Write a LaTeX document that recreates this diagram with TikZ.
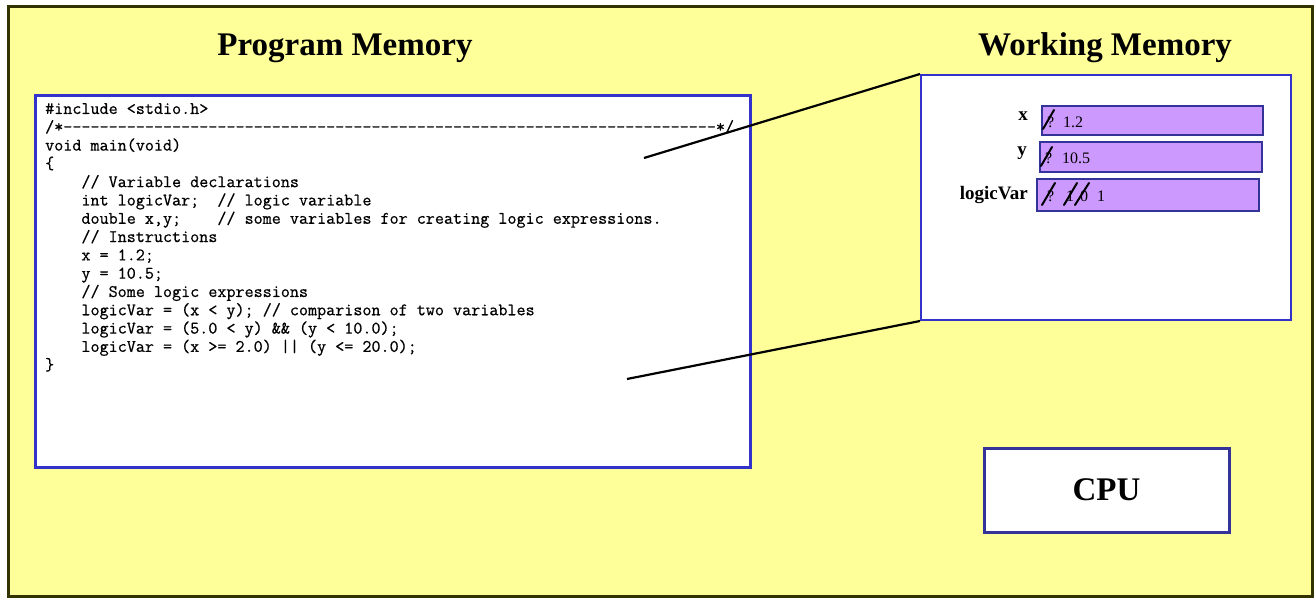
\documentclass[tikz,border=0pt]{standalone}
\usepackage{fontspec}
\setmainfont{Liberation Serif}
\newfontfamily\codefont{Latin Modern Mono}[FakeBold=0.6]
\definecolor{bgyellow}{HTML}{FFFF99}
\definecolor{frameolive}{HTML}{333300}
\definecolor{boxblue}{HTML}{3333CC}
\definecolor{cellblue}{HTML}{333399}
\definecolor{cellfill}{HTML}{CC99FF}
\tikzset{
  title/.style={font=\fontsize{33}{36}\selectfont\bfseries, inner sep=0pt},
  membox/.style={draw=boxblue, fill=white, line width=3pt},
  wmbox/.style={draw=boxblue, fill=white, line width=2pt},
  cell/.style={draw=cellblue, fill=cellfill, line width=2pt},
  varlabel/.style={font=\fontsize{19}{21}\selectfont\bfseries, inner sep=0pt, anchor=east},
  valtext/.style={font=\fontsize{16}{18}\selectfont, inner sep=0pt, anchor=west},
  strike/.style={line width=2pt, line cap=round},
  link/.style={line width=2.2pt}
}
\begin{document}
\begin{tikzpicture}[x=1pt,y=-1pt]
\useasboundingbox (0,0) rectangle (1315,599);
% outer frame
\draw[fill=bgyellow, draw=frameolive, line width=3pt] (8.5,6.5) rectangle (1312,596);
% titles
\node[title] (pmtitle) at (345,48) {Program Memory};
\node[title] (wmtitle) at (1105,48) {Working Memory};
% program memory
\node[membox, minimum width=715pt, minimum height=371pt, inner sep=0pt] (pm) at (392.5,281.5) {};
\node[anchor=north west, inner sep=0pt, align=left,
      font=\codefont\fontsize{17.6}{18.3}\selectfont] (code) at (45,103) {%
\#include <stdio.h>\\
/*\foreach \i in {1,...,72}{-}*/\\
void main(void)\\
\{\\
~~~~// Variable declarations\\
~~~~int logicVar;~~// logic variable\\
~~~~double x,y;~~~~// some variables for creating logic expressions.\\
~~~~// Instructions\\
~~~~x = 1.2;\\
~~~~y = 10.5;\\
~~~~// Some logic expressions\\
~~~~logicVar = (x < y); // comparison of two variables\\
~~~~logicVar = (5.0 < y) \&\& (y < 10.0);\\
~~~~logicVar = (x >= 2.0) || (y <= 20.0);\\
\}};
% working memory
\node[wmbox, minimum width=370pt, minimum height=245pt, inner sep=0pt] (wm) at (1106,197.5) {};
% cells
\node[cell, minimum width=221pt, minimum height=29pt, inner sep=0pt] (cx) at (1152.5,120.5) {};
\node[cell, minimum width=222pt, minimum height=30pt, inner sep=0pt] (cy) at (1151,157) {};
\node[cell, minimum width=222pt, minimum height=32pt, inner sep=0pt] (cl) at (1148,195) {};
\node[varlabel] (lx) at (1028,116) {x};
\node[varlabel] (ly) at (1027,153) {y};
\node[varlabel] (ll) at (1028,195) {logicVar};
% x value
\node[valtext] (xq) at (1047,122) {?};
\draw[strike] (1043,129) -- (1054,110);
\node[valtext] (xv) at (1063,122) {1.2};
% y value
\node[valtext] (yq) at (1045,158) {?};
\draw[strike] (1041,166) -- (1052,147);
\node[valtext] (yv) at (1062,158) {10.5};
% logicVar value
\node[valtext] (lq) at (1047,196) {?};
\draw[strike] (1042,205) -- (1055,183);
\node[valtext] (l1) at (1066,196) {1};
\draw[strike] (1064,205) -- (1077,183);
\node[valtext] (l0) at (1080,196) {0};
\draw[strike] (1075,205) -- (1089,183);
\node[valtext] (lv) at (1097,196) {1};
% connectors
\coordinate (p1) at (644,158);
\coordinate (p2) at (627,379);
\draw[link] (p1) -- (wm.north west);
\draw[link] (p2) -- (wm.south west);
% CPU
\node[draw=cellblue, fill=white, line width=3pt, minimum width=245pt, minimum height=84pt,
      inner sep=0pt, font=\fontsize{33}{36}\selectfont\bfseries] (cpu) at (1106.5,490) {CPU};
\end{tikzpicture}
\end{document}
